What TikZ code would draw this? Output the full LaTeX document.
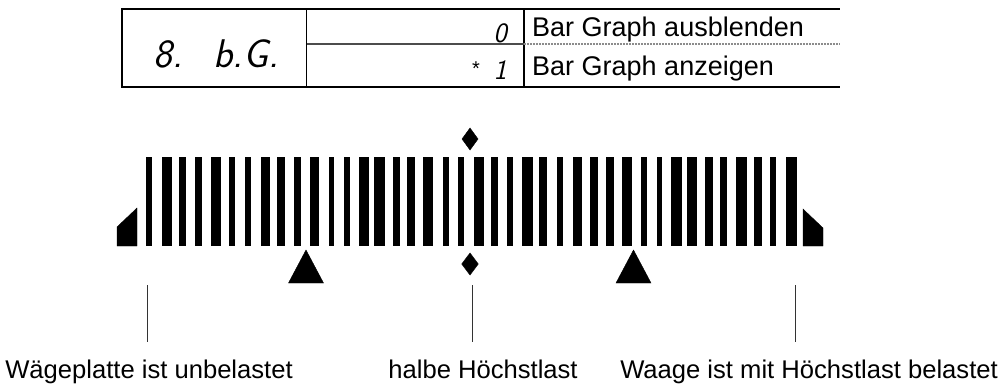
\documentclass[tikz,border=0pt]{standalone}
\usepackage{fontspec}
\setmainfont{Liberation Sans}
\begin{document}
\begin{tikzpicture}[x=1pt,y=-1pt,
  tabline/.style={line width=1.8pt,black},
  midline/.style={line width=1.6pt,black!70},
  dotline/.style={line width=1.2pt,black!45,dash pattern=on 1.5pt off 1.5pt},
  barrect/.style={fill=black,draw=none},
  marker/.style={fill=black,draw=black,line width=0.4pt,line join=miter},
  pointer/.style={line width=0.6pt,black!80},
  lbl/.style={inner sep=0pt,font=\fontsize{25.6}{30}\selectfont},
  cell/.style={inner sep=0pt,font=\fontsize{27}{32}\selectfont},
  seg/.style={inner sep=0pt,font=\sffamily\slshape\fontsize{40}{44}\selectfont},
  segs/.style={inner sep=0pt,font=\sffamily\slshape\fontsize{28}{32}\selectfont}]
\useasboundingbox (0,0) rectangle (1003,389);
% table
\coordinate (tl) at (122,9); \coordinate (tr) at (840,9);
\coordinate (bl) at (122,87); \coordinate (br) at (840,87);
\coordinate (d1t) at (306.5,9); \coordinate (d1b) at (306.5,87);
\coordinate (d2t) at (524,9); \coordinate (d2b) at (524,87);
\coordinate (m1) at (306.5,44); \coordinate (m2) at (524,44); \coordinate (m3) at (840,44);
\draw[tabline] (tl) -- (tr);
\draw[tabline] (bl) -- (br);
\draw[tabline] (122,8.1) -- (122,87.9);
\draw[tabline] (d1t) -- (d1b);
\draw[tabline] (d2t) -- (d2b);
\draw[midline] (m1) -- (m2);
\draw[dotline] (m2) -- (m3);
\node[seg,anchor=base west] (code1) at (153,67) {8.};
\node[seg,anchor=base west] (code2) at (213,67) {b.G.};
\node[segs,anchor=base east] (v0) at (507,42) {0};
\node[segs,anchor=base east] (v1) at (507,79) {1};
\node[cell,anchor=base,font=\fontsize{20}{24}\selectfont] (star) at (476,75) {*};
\node[cell,anchor=base west] (t0) at (532,36) {Bar Graph ausblenden};
\node[cell,anchor=base west] (t1) at (532,75) {Bar Graph anzeigen};
% bars
\foreach \a/\b in {145.7/151.7,161.7/171.7,179/185.7,195/201.7,210.7/220.7,229.3/235,245/250.7,261/270,276.7/285.3,294.3/301,310/318.7,328.7/334.3,344.3/350,359/368.7,374.3/385,393.3/400,407.3/415,423.3/433.3,442.7/449.3,457.7/464,474/484,491/498,506.7/513.3,522.3/533.3,539/546.7,557.3/562.7,572.7/581.7,590/597.7,606/614,621.7/631.7,641/646.7,656.7/662.3,670.7/681.7,686.7/696.7,705.3/713.3,720/727.3,735.7/746.7,754/761.7,770/775.7,786/796.7}
  \fill[barrect] (\a,157) rectangle (\b,246);
% end markers
\draw[marker] (117,246) -- (117,227) -- (137,208) -- (137,246) -- cycle;
\draw[marker] (803,246) -- (803,209) -- (823,228) -- (823,246) -- cycle;
% triangles
\draw[marker] (306,250) -- (288.5,283) -- (323.5,283) -- cycle;
\draw[marker] (633.5,250) -- (616,283) -- (651,283) -- cycle;
% diamonds
\draw[marker] (470,128) -- (478,139) -- (470,150) -- (462,139) -- cycle;
\draw[marker] (470,253) -- (478.3,264) -- (470,275) -- (461.7,264) -- cycle;
% pointer lines and labels
\node[lbl,anchor=base] (l1) at (149,378) {Wägeplatte ist unbelastet};
\node[lbl,anchor=base] (l2) at (483,378) {halbe Höchstlast};
\node[lbl,anchor=base] (l3) at (809,378) {Waage ist mit Höchstlast belastet};
\coordinate (p1) at (147,285); \coordinate (q1) at (147,342);
\coordinate (p2) at (472.3,285); \coordinate (q2) at (472.3,342);
\coordinate (p3) at (795.7,285); \coordinate (q3) at (795.7,342);
\draw[pointer] (p1) -- (q1);
\draw[pointer] (p2) -- (q2);
\draw[pointer] (p3) -- (q3);
\end{tikzpicture}
\end{document}
